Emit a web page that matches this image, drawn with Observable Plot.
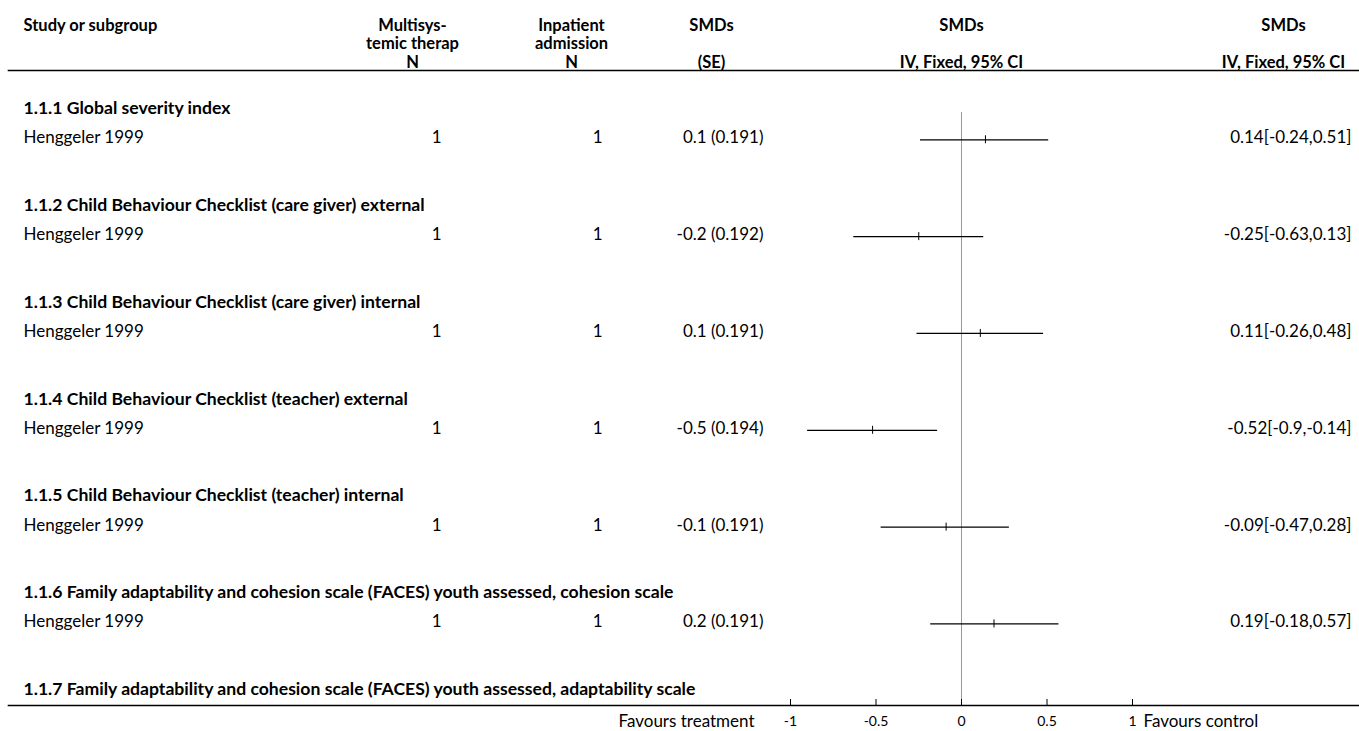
<!DOCTYPE html>
<html><head><meta charset="utf-8">
<script src="https://cdn.jsdelivr.net/npm/d3@7"></script>
<script src="https://cdn.jsdelivr.net/npm/@observablehq/plot@0.6"></script>
<style>
html,body{margin:0;padding:0;background:#fff;}
</style></head><body><div id="chart"></div>
<script>
// ---- data ----
const groupLabels = [
  "1.1.1 Global severity index",
  "1.1.2 Child Behaviour Checklist (care giver) external",
  "1.1.3 Child Behaviour Checklist (care giver) internal",
  "1.1.4 Child Behaviour Checklist (teacher) external",
  "1.1.5 Child Behaviour Checklist (teacher) internal",
  "1.1.6 Family adaptability and cohesion scale (FACES) youth assessed, cohesion scale",
  "1.1.7 Family adaptability and cohesion scale (FACES) youth assessed, adaptability scale"
];
const studyLabels = ["Henggeler 1999","Henggeler 1999","Henggeler 1999","Henggeler 1999","Henggeler 1999","Henggeler 1999"];
const nTreatment = [1,1,1,1,1,1];
const nControl = [1,1,1,1,1,1];
const smdValue = [0.1,-0.2,0.1,-0.5,-0.1,0.2];
const smdSE = [0.191,0.192,0.191,0.194,0.191,0.191];
const estimate = [0.14,-0.25,0.11,-0.52,-0.09,0.19];
const ciLow = [-0.24,-0.63,-0.26,-0.9,-0.47,-0.18];
const ciHigh = [0.51,0.13,0.48,-0.14,0.28,0.57];
const xTicks = [-1,-0.5,0,0.5,1];
const headerLine1 = ["Study or subgroup","Multisys-","Inpatient","SMDs","SMDs","SMDs"];
const headerLine2 = ["","temic therap","admission","","",""];
const headerLine3 = ["","N","N","(SE)","IV, Fixed, 95% CI","IV, Fixed, 95% CI"];
const favours = ["Favours treatment","Favours control"];

// ---- tables built from the arrays ----
const headings = groupLabels.map((label, g) => ({label, row: 3 * g}));
const studies = studyLabels.map((label, i) => ({
  label, row: 3 * i + 1,
  nT: String(nTreatment[i]), nC: String(nControl[i]),
  smdse: `${smdValue[i]} (${smdSE[i]})`,
  est: estimate[i], lo: ciLow[i], hi: ciHigh[i],
  ci: `${estimate[i]}[${ciLow[i]},${ciHigh[i]}]`
}));

// ---- layout ----
const FONT = "Lato, sans-serif";
const FS = 17;
const FB = 17.6;
const FH = 16.5;
const colHead = [
  {dx: 23, anchor: "start"},
  {dx: 412, anchor: "middle"},
  {dx: 571, anchor: "middle"},
  {dx: 711, anchor: "middle"},
  {dx: 961, anchor: "middle"},
  {dx: 1283, anchor: "middle"}
];
const headerRows = [
  {labels: headerLine1, dy: -45},
  {labels: headerLine2, dy: -27},
  {labels: headerLine3, dy: -8}
];

const headerMarks = [];
colHead.forEach((c, i) => {
  headerRows.forEach(r => {
    if (!r.labels[i]) return;
    headerMarks.push(Plot.text([r.labels[i]], {
      text: d => d, frameAnchor: "top-left", dx: c.dx, dy: r.dy,
      textAnchor: c.anchor, lineAnchor: "middle",
      fontWeight: "bold", fontSize: FH, fill: "#000"
    }));
  });
});

const chart = Plot.plot({
  width: 1359, height: 731,
  marginTop: 70, marginBottom: 26, marginLeft: 0, marginRight: 0,
  x: {domain: [-1, 1], range: [790, 1132], axis: null},
  y: {domain: [0, 18], range: [108, 689], axis: null},
  style: {fontFamily: FONT, fontSize: FS + "px", background: "#fff", color: "#000", overflow: "visible"},
  marks: [
    Plot.ruleX([0], {stroke: "#999", strokeWidth: 1, insetTop: 42}),
    Plot.frame({anchor: "top", stroke: "#000", strokeWidth: 1.6, insetLeft: 8}),
    Plot.frame({anchor: "bottom", stroke: "#000", strokeWidth: 1.6, insetLeft: 8}),
    Plot.ruleX(xTicks, {x: d => d, insetTop: 629, stroke: "#000", strokeWidth: 1}),
    Plot.text(xTicks, {x: d => d, text: d => String(d), frameAnchor: "bottom", dy: 20, fontSize: 14, fill: "#000"}),
    ...headerMarks,
    Plot.text(headings, {y: "row", text: "label", frameAnchor: "left", dx: 23, textAnchor: "start", fontWeight: "bold", fontSize: FB, fill: "#000"}),
    Plot.text(studies, {y: "row", text: "label", frameAnchor: "left", dx: 23, dy: -3, textAnchor: "start", fontSize: FS, fill: "#000"}),
    Plot.text(studies, {y: "row", text: "nT", frameAnchor: "left", dx: 441, dy: -3, textAnchor: "end", fontSize: FS, fill: "#000"}),
    Plot.text(studies, {y: "row", text: "nC", frameAnchor: "left", dx: 602, dy: -3, textAnchor: "end", fontSize: FS, fill: "#000"}),
    Plot.text(studies, {y: "row", text: "smdse", frameAnchor: "left", dx: 763, dy: -3, textAnchor: "end", fontSize: FS, fill: "#000"}),
    Plot.text(studies, {y: "row", text: "ci", frameAnchor: "left", dx: 1351, dy: -3, textAnchor: "end", fontSize: FS, fill: "#000"}),
    Plot.ruleY(studies, {y: "row", x1: "lo", x2: "hi", stroke: "#000", strokeWidth: 1.3, dy: -1}),
    Plot.ruleX(studies, {x: "est", y1: "row", y2: "row", insetTop: -4, insetBottom: -4, stroke: "#000", strokeWidth: 1, dy: -1}),
    Plot.text([favours[0]], {text: d => d, x: -1, frameAnchor: "bottom", textAnchor: "end", dx: -36, dy: 21, fontSize: FS, fill: "#000"}),
    Plot.text([favours[1]], {text: d => d, x: 1, frameAnchor: "bottom", textAnchor: "start", dx: 11, dy: 21, fontSize: FS, fill: "#000"})
  ]
});
document.getElementById("chart").appendChild(chart);
</script></body></html>
